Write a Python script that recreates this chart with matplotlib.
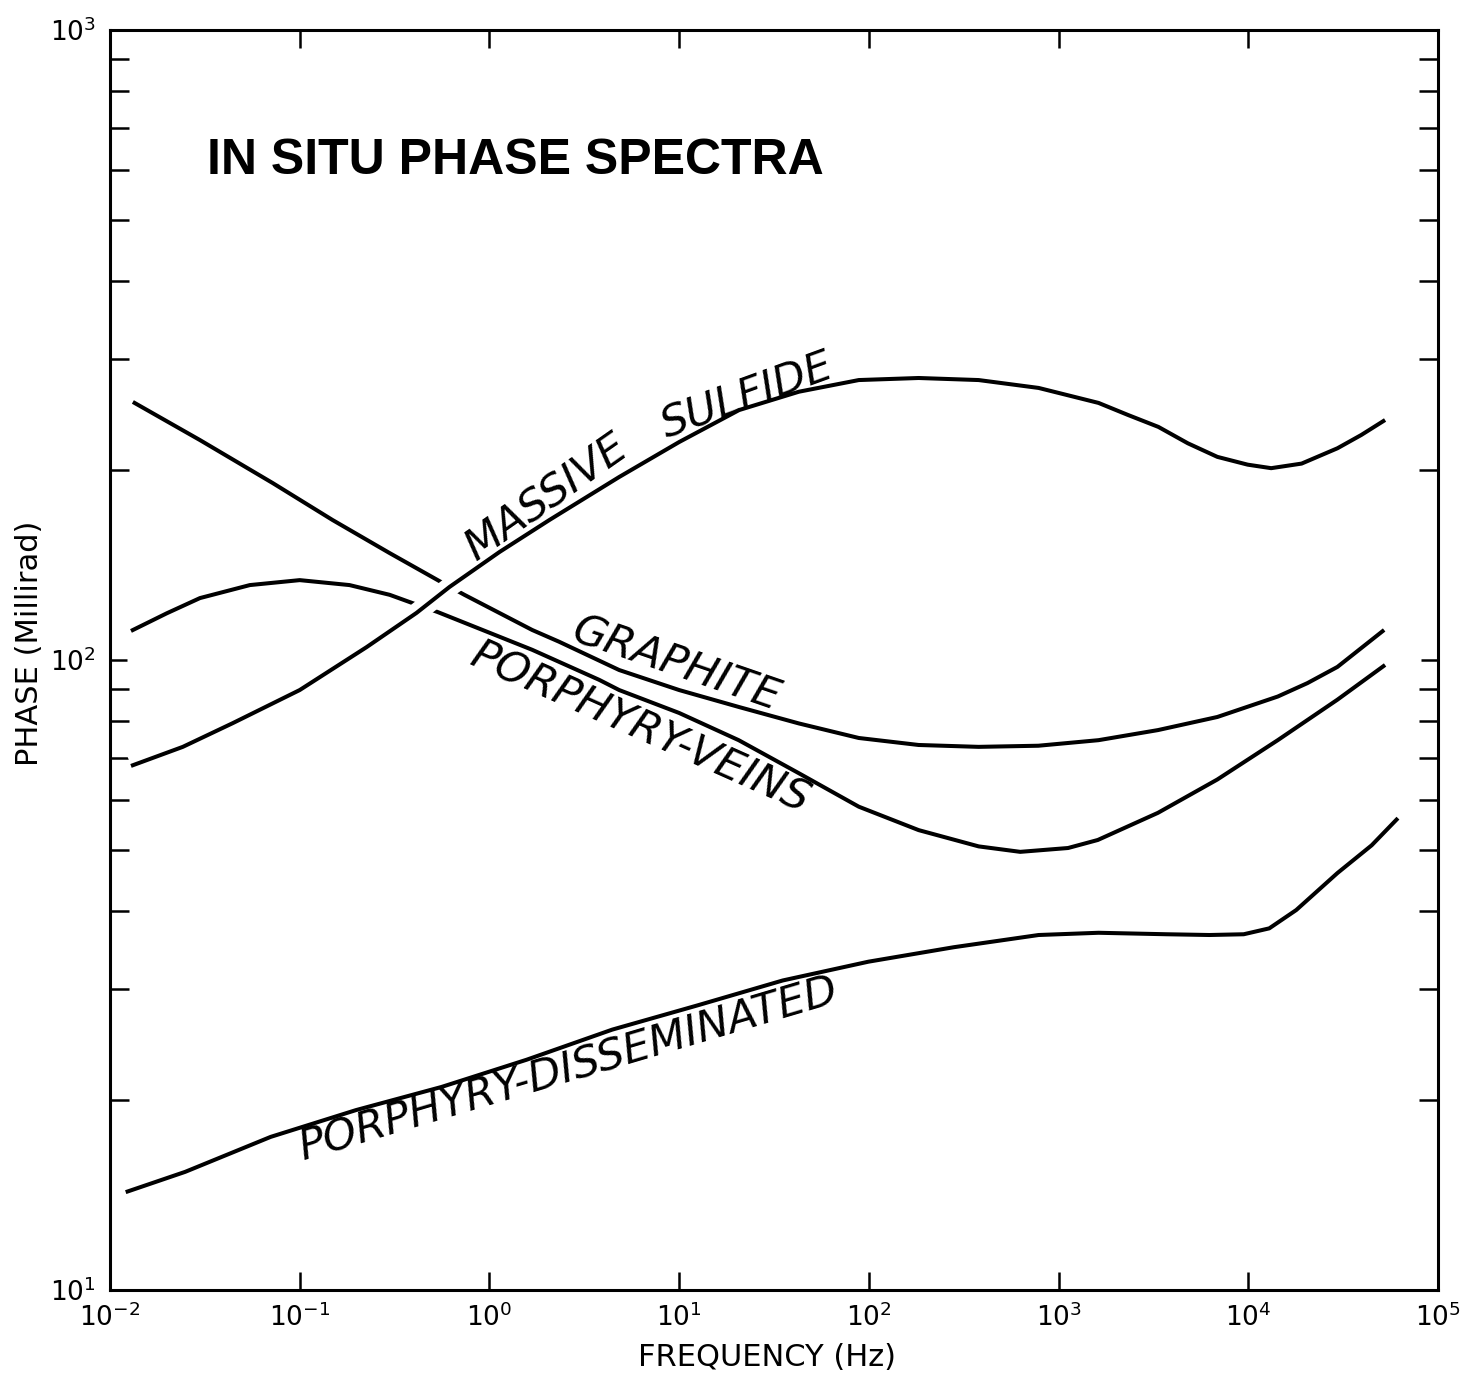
import matplotlib
matplotlib.use("Agg")
import matplotlib.pyplot as plt
import matplotlib.patheffects as pe
from matplotlib import font_manager as fm
from matplotlib.ticker import FixedLocator, NullLocator, NullFormatter, LogFormatterSciNotation

# ---------------- data ----------------
massive_freq = [0.0129, 0.0242, 0.0444, 0.1, 0.225, 0.413, 0.616, 1.13, 2.07, 4.83,
                10, 20.7, 42.8, 88.5, 183, 379, 785, 1624, 2320, 3360, 4800, 6870,
                9930, 13200, 19100, 29500, 39400, 52600]
massive_phase = [67.9, 72.8, 79.4, 89.6, 104.8, 118.8, 130.6, 148.4, 166.8, 195.2,
                 221.8, 249.3, 266.6, 278.2, 280.3, 278.2, 270.3, 255.9, 244.9, 234.4, 220.8, 210.1,
                 204.2, 201.6, 205.0, 216.8, 227.6, 240.4]

graphite_freq = [0.0132, 0.0298, 0.0721, 0.149, 0.298, 0.558, 0.738, 1.68, 2.33, 4.83,
                 10, 20.7, 42.8, 88.5, 183, 379, 782, 1624, 3340, 6870, 14300, 20500,
                 29500, 52000]
graphite_phase = [256.8, 223.4, 190.9, 166.8, 147.8, 132.9, 126.9, 111.6, 106.9, 96.4,
                  89.6, 84.2, 79.3, 75.2, 73.3, 72.8, 73.1, 74.6, 77.4, 81.2, 87.5, 91.9,
                  97.5, 111.6]

veins_freq = [0.0129, 0.0199, 0.0298, 0.0546, 0.1, 0.183, 0.298, 0.418, 0.532, 1.68,
              3.79, 4.83, 10, 20.6, 42.8, 88.5, 183, 379, 628, 1122, 1610, 3340,
              6860, 14300, 29500, 52600]
veins_phase = [111.2, 118.6, 125.4, 131.5, 133.9, 131.5, 126.9, 122.3, 119.2, 103.8,
               93.0, 89.6, 82.4, 74.6, 66.1, 58.5, 53.7, 50.6, 49.6, 50.3, 51.8, 57.2,
               64.6, 74.6, 86.5, 98.2]

dissem_freq = [0.0121, 0.0249, 0.0703, 0.198, 0.558, 1.57, 4.44, 12.5, 35.2, 99.5,
               280, 785, 1624, 3720, 6240, 9460, 12900, 17900, 29500, 44700, 61500]
dissem_phase = [14.3, 15.4, 17.5, 19.3, 21.0, 23.2, 25.9, 28.3, 31.0, 33.2,
                35.0, 36.6, 36.9, 36.7, 36.6, 36.7, 37.5, 40.1, 45.9, 50.8, 56.1]

x_limits = (1e-2, 1e5)
y_limits = (1e1, 1e3)
x_major_ticks = [1e-2, 1e-1, 1e0, 1e1, 1e2, 1e3, 1e4, 1e5]
y_major_ticks = [1e1, 1e2, 1e3]
y_minor_ticks = [m * d for d in (10, 100) for m in range(2, 10)]

title_text = "IN SITU PHASE SPECTRA"
xlabel_text = "FREQUENCY (Hz)"
ylabel_text = "PHASE (Millirad)"

# ---------------- fonts ----------------
plt.rcParams["font.family"] = ["DejaVu Sans"]
plt.rcParams["mathtext.fontset"] = "dejavusans"


def pick(fams):
    for f in fams:
        try:
            fm.findfont(fm.FontProperties(family=f, weight="bold"), fallback_to_default=False)
            return f
        except Exception:
            pass
    return None


title_font = pick(["Liberation Sans", "Arimo", "Roboto"])

# ---------------- figure ----------------
W, H = 1463, 1374
fig = plt.figure(figsize=(W / 100, H / 100), dpi=100)
L, R, T, B = 110, 1438, 30, 1290
ax = fig.add_axes([L / W, (H - B) / H, (R - L) / W, (B - T) / H])

ax.set_xscale("log")
ax.set_yscale("log")
ax.set_xlim(*x_limits)
ax.set_ylim(*y_limits)

lw = 2.9
ax.plot(graphite_freq, graphite_phase, color="black", lw=lw, solid_capstyle="butt", zorder=2)
ax.plot(veins_freq, veins_phase, color="black", lw=lw, solid_capstyle="butt", zorder=2)
ax.plot(dissem_freq, dissem_phase, color="black", lw=lw, solid_capstyle="butt", zorder=2)
ax.plot(massive_freq, massive_phase, color="black", lw=lw, solid_capstyle="butt", zorder=3,
        path_effects=[pe.Stroke(linewidth=14, foreground="white"), pe.Normal()])

# spines and ticks
for s in ax.spines.values():
    s.set_linewidth(2.2)
ax.xaxis.set_major_locator(FixedLocator(x_major_ticks))
ax.xaxis.set_major_formatter(LogFormatterSciNotation())
ax.xaxis.set_minor_locator(NullLocator())
ax.yaxis.set_major_locator(FixedLocator(y_major_ticks))
ax.yaxis.set_major_formatter(LogFormatterSciNotation())
ax.yaxis.set_minor_locator(FixedLocator(y_minor_ticks))
ax.yaxis.set_minor_formatter(NullFormatter())
ax.tick_params(axis="both", which="both", direction="in", width=1.8,
               top=True, right=True, labelsize=19)
ax.tick_params(axis="x", which="major", length=13, pad=10)
ax.tick_params(axis="y", which="major", length=12, pad=10)
ax.tick_params(axis="y", which="minor", length=14)

# axis labels
ax.set_xlabel(xlabel_text, fontsize=22)
ax.xaxis.set_label_coords(0.495, -0.042)
ax.set_ylabel(ylabel_text, fontsize=22)
ax.yaxis.set_label_coords(-0.050, 0.513)

# title
tkw = dict(transform=ax.transAxes, ha="left", va="baseline", fontsize=36, fontweight="bold")
if title_font:
    tkw["family"] = title_font
ax.text(0.073, 0.886, title_text, **tkw)

# curve labels
lab_kw = dict(fontsize=31, style="oblique", ha="center", va="center",
              rotation_mode="anchor", zorder=5)
ax.text(2.0, 181.0, "MASSIVE", rotation=35, **lab_kw)
ax.text(22.8, 262.0, "SULFIDE", rotation=20, **lab_kw)
ax.text(9.64, 98.5, "GRAPHITE", rotation=-19, **lab_kw)
ax.text(6.23, 78.0, "PORPHYRY-VEINS", rotation=-24, **lab_kw)
ax.text(2.64, 22.4, "PORPHYRY-DISSEMINATED", rotation=16.5, **lab_kw)

fig.savefig("out.png", dpi=100, facecolor="white")
